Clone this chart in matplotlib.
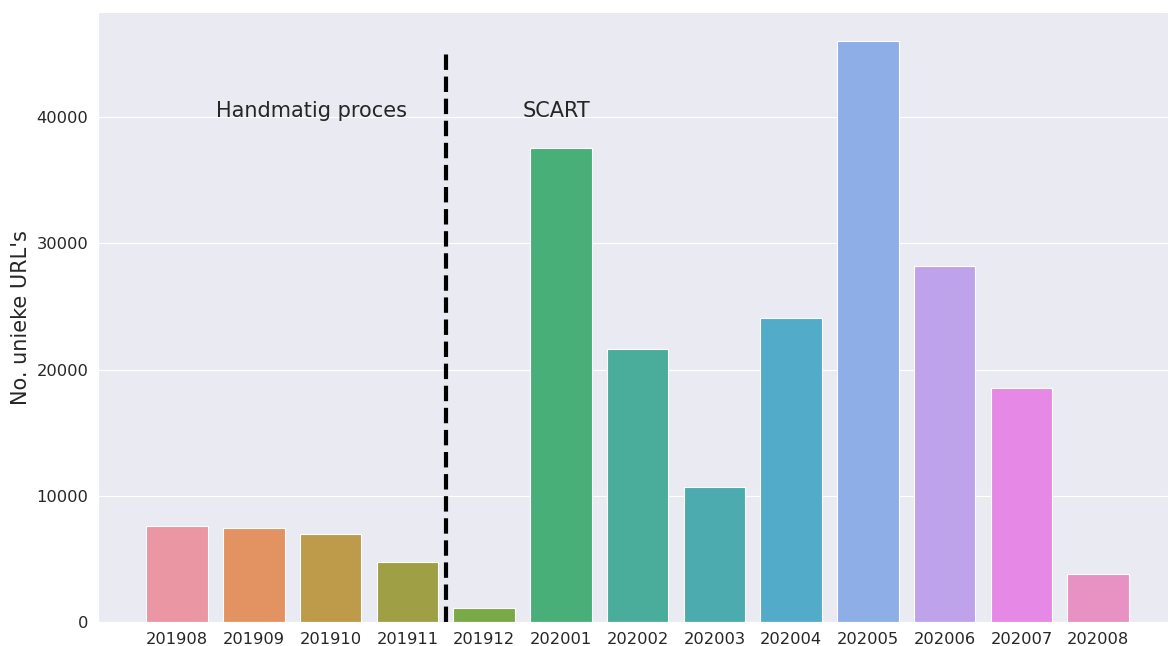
import matplotlib
matplotlib.use("Agg")
import matplotlib.pyplot as plt
import seaborn as sns

# ---- data ----------------------------------------------------------------
months = ["201908", "201909", "201910", "201911", "201912", "202001", "202002",
          "202003", "202004", "202005", "202006", "202007", "202008"]
unique_urls = [7600, 7450, 6970, 4750, 1100, 37550, 21620,
               10700, 24100, 46020, 28200, 18540, 3800]
split_pos = 3.5
split_top = 45000
labels = ["Handmatig proces", "SCART"]
label_x = [0.5, 4.5]
label_y = 40000

sns.set_style("darkgrid")

# old seaborn default for >10 categories: husl palette, then desaturated
colors = [sns.desaturate(c, 0.75) for c in sns.husl_palette(len(months), l=.7)]

fig, ax = plt.subplots(figsize=(11.68, 6.46), dpi=100)
fig.subplots_adjust(left=0.084, right=1.0, top=0.981, bottom=0.037)

x = list(range(len(months)))
ax.bar(x, unique_urls, width=0.8, color=colors, edgecolor="white", linewidth=0.8)
ax.set_xticks(x)
ax.set_xticklabels(months, fontsize=11.7)
ax.tick_params(axis="y", labelsize=11.7)
ax.grid(False, axis="x")

ax.plot([split_pos, split_pos], [0, split_top], "--", color="black", lw=3)
for lab, lx in zip(labels, label_x):
    ax.text(lx, label_y, lab, fontsize=15, color="#262626")

ax.set_ylabel("No. unieke URL's", fontsize=15)
ax.yaxis.set_label_coords(-0.063, 0.5)
ax.set_xlim(-1.03, 12.91)
ax.set_ylim(0, 48300)

plt.savefig("out.png", dpi=100)
